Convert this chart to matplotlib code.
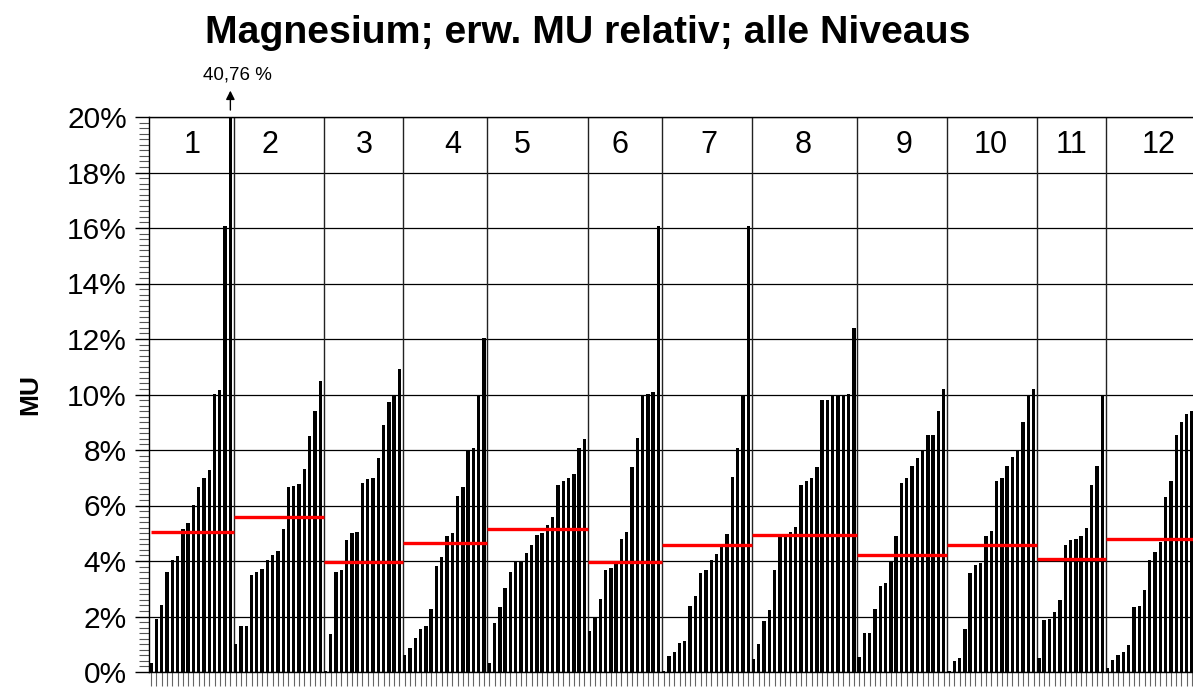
import matplotlib
matplotlib.use("Agg")
import matplotlib.pyplot as plt
import numpy as np

plt.rcParams['font.family'] = ['Liberation Sans', 'DejaVu Sans']

# MU values (%) per Niveau, sorted ascending as in the chart
g1 = [0.34, 1.92, 2.43, 3.62, 4.02, 4.18, 5.17, 5.36, 6.03, 6.68, 6.98, 7.27, 10.03, 10.18, 16.09, 40.76]
g2 = [1.0, 1.65, 1.67, 3.51, 3.62, 3.71, 4.02, 4.21, 4.36, 5.16, 6.65, 6.69, 6.77, 7.30, 8.50, 9.42, 10.50]
g3 = [0.05, 1.38, 3.59, 3.66, 4.75, 5.02, 5.03, 6.80, 6.94, 7.00, 7.72, 8.89, 9.73, 10.0, 10.92]
g4 = [0.63, 0.85, 1.24, 1.55, 1.67, 2.27, 3.81, 4.16, 4.89, 5.0, 6.34, 6.65, 8.0, 8.06, 10.0, 12.05]
g5 = [0.34, 1.75, 2.36, 3.04, 3.62, 4.01, 4.01, 4.30, 4.56, 4.93, 5.01, 5.29, 5.57, 6.75, 6.88, 6.98, 7.13, 8.08, 8.39]
g6 = [1.48, 1.96, 2.62, 3.67, 3.74, 3.91, 4.79, 5.06, 7.40, 8.43, 9.99, 10.01, 10.09, 16.09]
g7 = [0.04, 0.59, 0.72, 1.05, 1.13, 2.38, 2.73, 3.56, 3.67, 4.05, 4.25, 4.63, 4.97, 7.04, 8.07, 10.0, 16.09]
g8 = [0.46, 1.0, 1.82, 2.23, 3.68, 4.93, 4.99, 5.03, 5.21, 6.73, 6.88, 6.99, 7.38, 9.81, 9.81, 9.99, 9.99, 9.99, 10.03, 12.38]
g9 = [0.54, 1.39, 1.39, 2.27, 3.10, 3.20, 3.95, 4.91, 6.82, 6.99, 7.42, 7.72, 7.99, 8.53, 8.53, 9.39, 10.19]
g10 = [0.04, 0.39, 0.50, 1.54, 3.56, 3.87, 3.93, 4.91, 5.09, 6.88, 6.99, 7.42, 7.75, 8.0, 9.0, 10.0, 10.19]
g11 = [0.51, 1.86, 1.92, 2.16, 2.60, 4.56, 4.76, 4.80, 4.91, 5.18, 6.73, 7.42, 10.0]
g12 = [0.15, 0.42, 0.61, 0.72, 0.99, 2.33, 2.38, 2.94, 4.05, 4.32, 4.70, 6.29, 6.88, 8.53, 9.01, 9.31, 9.41]
groups = [g1, g2, g3, g4, g5, g6, g7, g8, g9, g10, g11, g12]
group_names = [str(i) for i in range(1, 13)]

# red reference line per Niveau (%)
red_vals = [5.05, 5.58, 3.98, 4.65, 5.16, 3.97, 4.58, 4.95, 4.21, 4.58, 4.08, 4.78]

ymax = 20
over_text = "40,76 %"

# label positions in bar-index units (as placed in the original)
label_x = [7.8, 22.5, 40.3, 57.1, 70.2, 88.8, 105.6, 123.4, 142.5, 158.9, 174.1, 190.6]

fig = plt.figure(figsize=(11.93, 6.87), dpi=100)
W, H = 1193, 687
ax = fig.add_axes([149 / W, (H - 672) / H, (1205 - 149) / W, (672 - 117) / H])

values = np.concatenate(groups)
x = np.arange(len(values))
ax.bar(x, values, width=0.64, color='black', zorder=3)

starts = np.cumsum([0] + [len(g) for g in groups])
xmin = -0.4
xmax = xmin + (1205 - 149) / 5.284
ax.set_xlim(xmin, xmax)
ax.set_ylim(0, ymax)

# group dividers
div = starts[1:-1] - 0.35
ax.vlines(div, 0, ymax, color='#222222', lw=1.0, zorder=2)

# red lines
left = np.concatenate([[-0.1], div])
right = np.concatenate([div, [xmax]])
ax.hlines(red_vals, left, right, color='red', lw=2.4, zorder=4)

# group labels
for lx, name in zip(label_x, group_names):
    ax.text(lx, 19.0, name, ha='center', va='center', fontsize=22)

# axes styling
ax.set_yticks(np.arange(0, ymax + 0.1, 2))
ax.set_yticklabels(['{:d}%'.format(int(v)) for v in np.arange(0, ymax + 0.1, 2)], fontsize=21.5)
ax.set_yticks(np.arange(0, ymax + 0.01, 0.2), minor=True)
ax.yaxis.grid(True, color='black', lw=0.9, zorder=1)
ax.set_axisbelow(True)
ax.tick_params(axis='y', which='major', direction='out', length=10, width=1, pad=6)
ax.tick_params(axis='y', which='minor', direction='out', length=7, width=0.8, color='#555555')
ax.set_xticks(x)
ax.set_xticklabels([])
ax.tick_params(axis='x', which='major', direction='out', length=10, width=0.8, color='#666666')
for s in ax.spines.values():
    s.set_linewidth(1.0)
ax.spines['right'].set_visible(False)

ax.set_ylabel('MU', fontsize=19, fontweight='bold', labelpad=18)

# overflow marker for the clipped bar
big = int(np.argmax(values))
ax.annotate('', xy=(big, 21.05), xytext=(big, 20.15),
            arrowprops=dict(arrowstyle='-|>', color='black', lw=1, mutation_scale=13),
            annotation_clip=False)
ax.text(big + 1.4, 21.5, over_text, ha='center', va='center', fontsize=13.5)

fig.text(588 / W, 1 - 33 / H, 'Magnesium; erw. MU relativ; alle Niveaus',
         ha='center', va='center', fontsize=28.3, fontweight='bold')

fig.savefig('out.png', dpi=100)
